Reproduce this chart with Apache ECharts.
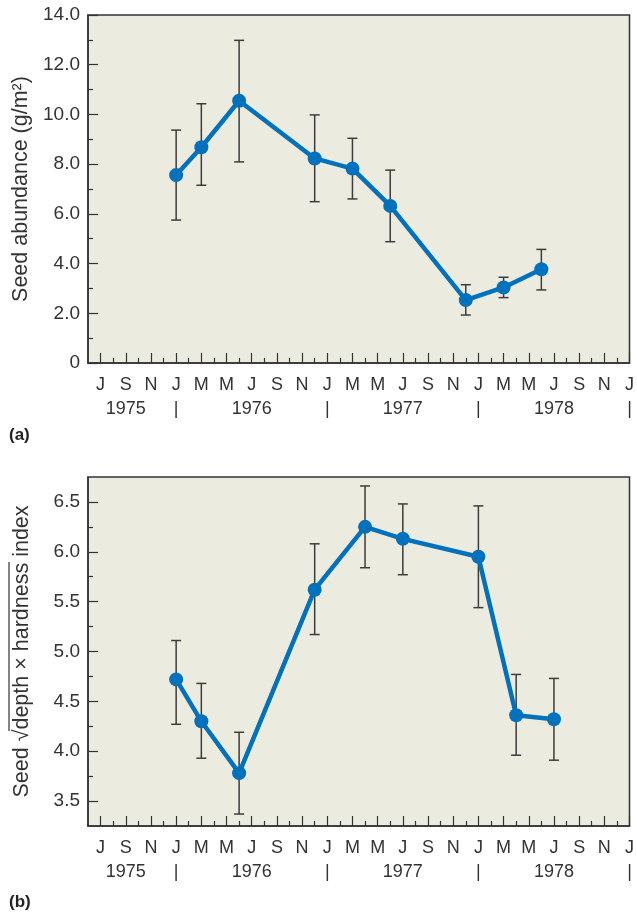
<!DOCTYPE html>
<html>
<head>
<meta charset="utf-8">
<script src="https://cdn.jsdelivr.net/npm/echarts@6/dist/echarts.min.js"></script>
<style>
  html, body { margin: 0; padding: 0; background: #fff; }
  #chart { width: 637px; height: 917px; }
</style>
</head>
<body>
<div id="chart"></div>
<script>
// x is a month index: 0 = Jun 1975 ... 43 = Jan 1979
const monthTicks = [1, 3, 5, 7, 9, 11, 13, 15, 17, 19, 21, 23, 25, 27, 29, 31, 33, 35, 37, 39, 41, 43];
const monthLetters = ['J', 'S', 'N', 'J', 'M', 'M', 'J', 'S', 'N', 'J', 'M', 'M', 'J', 'S', 'N', 'J', 'M', 'M', 'J', 'S', 'N', 'J'];
const minorMonthTicks = [2, 4, 6, 8, 10, 12, 14, 16, 18, 20, 22, 24, 26, 28, 30, 32, 34, 36, 38, 40, 42];
const yearTicks = [3, 7, 13, 19, 25, 31, 37, 43];
const yearLabels = ['1975', '|', '1976', '|', '1977', '|', '1978', '|'];

// (a) seed abundance
const abundanceMonths = [7, 9, 12, 18, 21, 24, 30, 33, 36];
const abundanceMean = [7.56, 8.68, 10.55, 8.23, 7.82, 6.32, 2.53, 3.04, 3.77];
const abundanceLow = [5.75, 7.15, 8.09, 6.49, 6.60, 4.88, 1.93, 2.63, 2.94];
const abundanceHigh = [9.37, 10.43, 12.98, 9.98, 9.04, 7.76, 3.15, 3.45, 4.57];
const abundanceTicks = [0, 2, 4, 6, 8, 10, 12, 14];
const abundanceTickLabels = ['0', '2.0', '4.0', '6.0', '8.0', '10.0', '12.0', '14.0'];
const abundanceMinor = [1, 3, 5, 7, 9, 11, 13];

// (b) depth x hardness index
const hardnessMonths = [7, 9, 12, 18, 22, 25, 31, 34, 37];
const hardnessMean = [4.72, 4.30, 3.78, 5.62, 6.25, 6.13, 5.95, 4.36, 4.32];
const hardnessLow = [4.27, 3.93, 3.37, 5.17, 5.84, 5.77, 5.44, 3.96, 3.91];
const hardnessHigh = [5.11, 4.68, 4.19, 6.08, 6.66, 6.48, 6.46, 4.77, 4.73];
const hardnessTicks = [3.5, 4.0, 4.5, 5.0, 5.5, 6.0, 6.5];
const hardnessTickLabels = ['3.5', '4.0', '4.5', '5.0', '5.5', '6.0', '6.5'];
const hardnessMinor = [3.75, 4.25, 4.75, 5.25, 5.75, 6.25];

const INK = '#333';
const FONT = 'Liberation Sans';
const BLUE = '#0071bc';

const chart = echarts.init(document.getElementById('chart'));

function monthAxes(gridIndex) {
  return [
    {
      type: 'value', gridIndex, min: 0, max: 43,
      axisLine: { show: true, lineStyle: { color: INK, width: 1.5 } },
      axisTick: { show: true, inside: true, length: 10, customValues: monthTicks, lineStyle: { color: INK, width: 1.2 } },
      axisLabel: {
        customValues: monthTicks, color: INK, fontFamily: FONT, fontSize: 18, margin: 10, lineHeight: 24,
        formatter: (v) => {
          const i = monthTicks.indexOf(v);
          const y = yearTicks.indexOf(v);
          return y >= 0 ? monthLetters[i] + '\n' + yearLabels[y] : monthLetters[i];
        }
      },
      splitLine: { show: false }
    },
    {
      type: 'value', gridIndex, min: 0, max: 43, position: 'bottom',
      axisLine: { show: false },
      axisTick: { show: true, inside: true, length: 5, customValues: minorMonthTicks, lineStyle: { color: INK, width: 1.2 } },
      axisLabel: { show: false },
      splitLine: { show: false }
    }
  ];
}

function valueAxes(gridIndex, min, max, ticks, labels, minor, name, nameGap) {
  return [
    {
      type: 'value', gridIndex, min, max,
      name, nameLocation: 'middle', nameGap,
      nameTextStyle: { color: INK, fontFamily: FONT, fontSize: 21.5 },
      axisLine: { show: true, lineStyle: { color: INK, width: 1.5 } },
      axisTick: { show: true, inside: true, length: 10, customValues: ticks, lineStyle: { color: INK, width: 1.2 } },
      axisLabel: {
        customValues: ticks, color: INK, fontFamily: FONT, fontSize: 19, margin: 8,
        formatter: (v) => labels[ticks.indexOf(v)]
      },
      splitLine: { show: false }
    },
    {
      type: 'value', gridIndex, min, max, position: 'left',
      axisLine: { show: false },
      axisTick: { show: true, inside: true, length: 5, customValues: minor, lineStyle: { color: INK, width: 1.2 } },
      axisLabel: { show: false },
      splitLine: { show: false }
    }
  ];
}

function errorBars(params, api) {
  const x = api.value(0);
  const lo = api.coord([x, api.value(1)]);
  const hi = api.coord([x, api.value(2)]);
  const cap = 5;
  const style = { stroke: '#3c3c3c', lineWidth: 1.5 };
  return {
    type: 'group',
    children: [
      { type: 'line', shape: { x1: lo[0], y1: lo[1], x2: hi[0], y2: hi[1] }, style },
      { type: 'line', shape: { x1: lo[0] - cap, y1: lo[1], x2: lo[0] + cap, y2: lo[1] }, style },
      { type: 'line', shape: { x1: hi[0] - cap, y1: hi[1], x2: hi[0] + cap, y2: hi[1] }, style }
    ]
  };
}

const gridStyle = { show: true, backgroundColor: '#ecebe0', borderColor: INK, borderWidth: 1.5 };

const option = {
  animation: false,
  grid: [
    Object.assign({ left: 88, top: 15, width: 545, height: 348 }, gridStyle),
    Object.assign({ left: 88, top: 477, width: 545, height: 349 }, gridStyle)
  ],
  xAxis: [...monthAxes(0), ...monthAxes(1)],
  yAxis: [
    ...valueAxes(0, 0, 14, abundanceTicks, abundanceTickLabels, abundanceMinor, 'Seed abundance (g/m²)', 55),
    ...valueAxes(1, 3.25, 6.75, hardnessTicks, hardnessTickLabels, hardnessMinor, 'Seed √depth × hardness index', 55)
  ],
  series: [
    {
      type: 'custom', xAxisIndex: 0, yAxisIndex: 0, z: 2,
      renderItem: errorBars,
      encode: { x: 0, y: [1, 2] },
      data: abundanceMonths.map((m, i) => [m, abundanceLow[i], abundanceHigh[i]])
    },
    {
      type: 'line', xAxisIndex: 0, yAxisIndex: 0, z: 3,
      data: abundanceMonths.map((m, i) => [m, abundanceMean[i]]),
      symbol: 'circle', symbolSize: 14,
      lineStyle: { color: BLUE, width: 4.5 },
      itemStyle: { color: BLUE }
    },
    {
      type: 'custom', xAxisIndex: 2, yAxisIndex: 2, z: 2,
      renderItem: errorBars,
      encode: { x: 0, y: [1, 2] },
      data: hardnessMonths.map((m, i) => [m, hardnessLow[i], hardnessHigh[i]])
    },
    {
      type: 'line', xAxisIndex: 2, yAxisIndex: 2, z: 3,
      data: hardnessMonths.map((m, i) => [m, hardnessMean[i]]),
      symbol: 'circle', symbolSize: 14,
      lineStyle: { color: BLUE, width: 4.5 },
      itemStyle: { color: BLUE }
    }
  ],
  graphic: [
    { type: 'text', left: 9, top: 427, style: { text: '(a)', font: 'bold 17px "Liberation Sans"', fill: '#222' } },
    { type: 'text', left: 9, top: 894, style: { text: '(b)', font: 'bold 17px "Liberation Sans"', fill: '#222' } },
    // overline of the square root sign in the (b) axis title
    { type: 'line', shape: { x1: 9, y1: 731, x2: 9, y2: 562 }, style: { stroke: INK, lineWidth: 1.2 } }
  ]
};

chart.setOption(option);
</script>
</body>
</html>
